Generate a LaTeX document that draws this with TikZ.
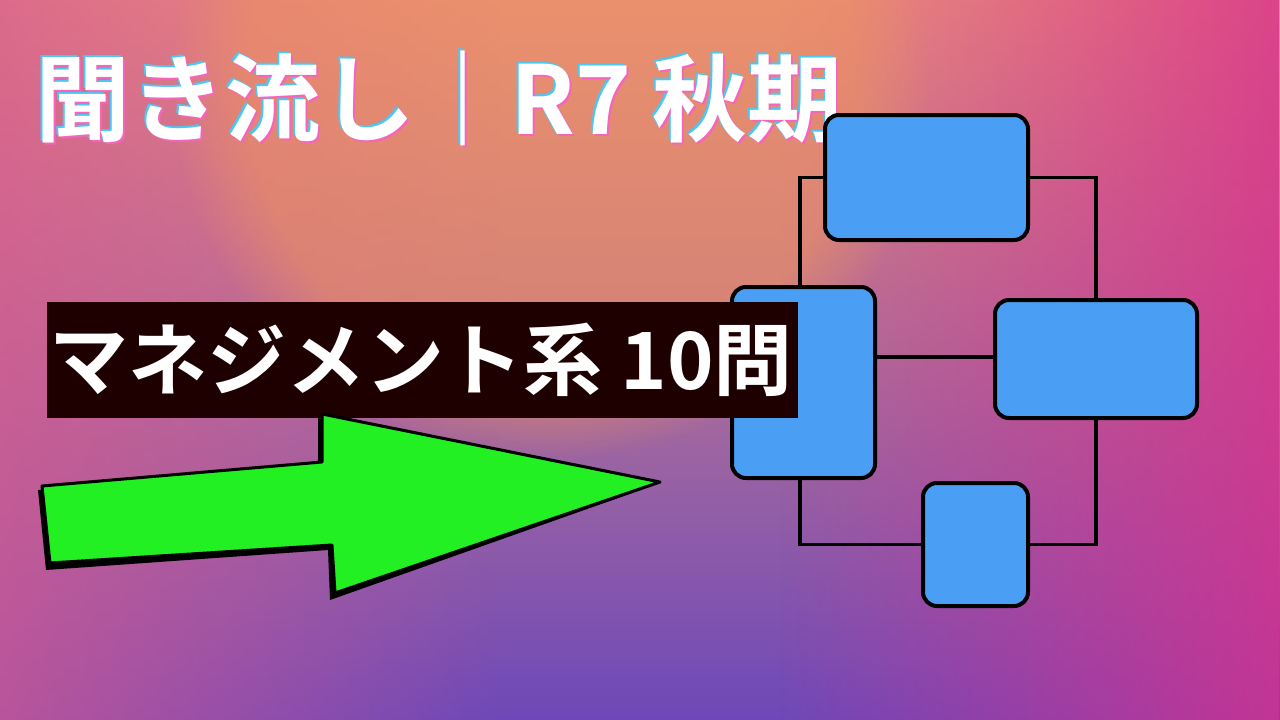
\documentclass[tikz,border=0pt]{standalone}
\usepackage{fontspec}
\newfontfamily\jp{Noto Sans CJK JP Bold}
\usetikzlibrary{fadings}
\definecolor{bluebox}{HTML}{4A9FF5}
\definecolor{peach}{HTML}{E8937C}
\definecolor{pinkl}{HTML}{D85A90}
\definecolor{purp}{HTML}{6E48B8}
\definecolor{magr}{HTML}{D8308C}
\definecolor{arrowg}{HTML}{22F022}
\tikzset{
  blk/.style={draw=black,line width=4pt,fill=bluebox,rounded corners=14pt,inner sep=0pt},
  wire/.style={draw=black,line width=3.5pt},
  ttl/.style={anchor=west,font=\jp\fontsize{95}{95}\selectfont},
}
\begin{document}
\begin{tikzpicture}[x=1pt,y=-1pt]
\useasboundingbox (0,0) rectangle (1280,720);
\shade[top color=peach,bottom color=purp] (0,0) rectangle (1280,720);
\fill[pinkl,path fading=east,opacity=0.7] (0,0) rectangle (500,720);
\fill[magr,path fading=west,opacity=0.8] (780,0) rectangle (1280,720);
\fill[peach!80!orange,path fading=circle with fuzzy edge 20 percent,opacity=0.6] (550,80) circle (380);
% title
\node[ttl,text=cyan!70] (tc) at (30,96) {聞き流し｜R7 秋期};
\node[ttl,text=magenta!60] (tm) at (34,100) {聞き流し｜R7 秋期};
\node[ttl,text=white] (title) at (32,98) {聞き流し｜R7 秋期};
% diagram
\node[blk,minimum width=203pt,minimum height=125pt] (A) at (926.5,177.5) {};
\node[blk,minimum width=143pt,minimum height=191pt] (B) at (803.5,382.5) {};
\node[blk,minimum width=202pt,minimum height=118pt] (C) at (1096,359) {};
\node[blk,minimum width=105pt,minimum height=123pt] (D) at (975.5,544.5) {};
\draw[wire] (800,287) |- (A.west);
\draw[wire] (A.east) -| (C.north);
\draw[wire] (B.east |- 0,357) -- (C.west |- 0,357);
\draw[wire] (800,478) |- (D.west);
\draw[wire] (D.east) -| (C.south);
% label
\node[fill=black!88!red,anchor=north west,minimum width=751pt,minimum height=116pt,inner sep=0pt] (lab) at (47,302) {};
\node[anchor=west,font=\jp\fontsize{79}{79}\selectfont,text=white] (labt) at (46,360) {マネジメント系 10問};
% arrow
\fill[black] (38,490) -- (318,466) -- (318,418) -- (652,486) -- (330,600) -- (328,550) -- (46,570) -- cycle;
\draw[black,line width=3pt,fill=arrowg,line join=round] (42,486) -- (322,462) -- (322,414) -- (660,482) -- (335,593) -- (332,545) -- (50,563) -- cycle;
\end{tikzpicture}
\end{document}
